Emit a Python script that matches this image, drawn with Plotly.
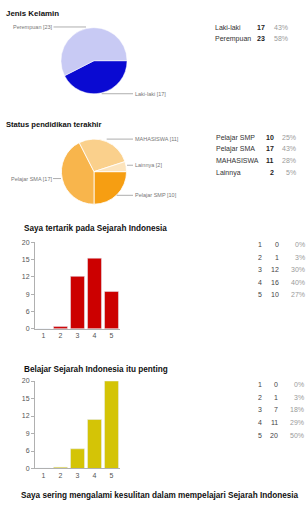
import plotly.graph_objects as go

W, H = 306, 507
FONT = "Liberation Sans"

# ---- data ----
gender_labels = ["Laki-laki", "Perempuan"]
gender_values = [17, 23]
gender_pct = ["43%", "58%"]

edu_labels = ["Pelajar SMP", "Pelajar SMA", "MAHASISWA", "Lainnya"]
edu_values = [10, 17, 11, 2]
edu_pct = ["25%", "43%", "28%", "5%"]

scale_cats = ["1", "2", "3", "4", "5"]
q1_title = "Saya tertarik pada Sejarah Indonesia"
q1_counts = [0, 1, 12, 16, 10]
q1_pct = ["0%", "3%", "30%", "40%", "27%"]
q1_bars = [0, 0.5, 12.1, 16.3, 8.6]   # bar heights as drawn

q2_title = "Belajar Sejarah Indonesia itu penting"
q2_counts = [0, 1, 7, 11, 20]
q2_pct = ["0%", "3%", "18%", "29%", "50%"]
q2_bars = [0.1, 0.3, 4.5, 11.2, 20]

tick_vals = [0, 4, 8, 12, 16, 20]
tick_text = ["0", "6", "9", "12", "15", "20"]

q3_title = "Saya sering mengalami kesulitan dalam mempelajari Sejarah Indonesia"


def px(x):
    return x / W


def py(y):
    return 1 - y / H


fig = go.Figure()

# pies
fig.add_trace(go.Pie(
    labels=gender_labels, values=gender_values, sort=False,
    direction="clockwise", rotation=90, textinfo="none", hoverinfo="label+value",
    marker=dict(colors=["#0a0ad2", "#c8caf4"], line=dict(color="white", width=0.5)),
    domain=dict(x=[px(60.5), px(127.5)], y=[py(91), py(24)]), showlegend=False,
))
fig.add_trace(go.Pie(
    labels=edu_labels, values=edu_values, sort=False,
    direction="clockwise", rotation=90, textinfo="none", hoverinfo="label+value",
    marker=dict(colors=["#f69e12", "#f8b54c", "#fad08c", "#fce4bd"],
                line=dict(color="white", width=0.8)),
    domain=dict(x=[px(61), px(127)], y=[py(203), py(137)]), showlegend=False,
))

# bars
fig.add_trace(go.Bar(x=scale_cats, y=q1_bars, marker_color="#cc0000",
                     showlegend=False, xaxis="x", yaxis="y"))
fig.add_trace(go.Bar(x=scale_cats, y=q2_bars, marker_color="#d4c406",
                     showlegend=False, xaxis="x2", yaxis="y2"))

axis_common_y = dict(range=[0, 20], tickvals=tick_vals, ticktext=tick_text,
                     showline=True, linecolor="#b0b0b0", linewidth=1,
                     ticks="outside", ticklen=3, tickcolor="#b0b0b0",
                     showgrid=False, zeroline=False,
                     tickfont=dict(family=FONT, size=7, color="#555"))
axis_common_x = dict(type="category", showline=True, linecolor="#b0b0b0",
                     linewidth=1, ticks="", showgrid=False,
                     tickfont=dict(family=FONT, size=7, color="#555"))

fig.update_layout(
    width=W, height=H, margin=dict(l=0, r=0, t=0, b=0),
    paper_bgcolor="white", plot_bgcolor="white",
    bargap=0.18,
    xaxis=dict(domain=[px(35), px(120)], anchor="y", **axis_common_x),
    yaxis=dict(domain=[py(329.3), py(241.5)], anchor="x", **axis_common_y),
    xaxis2=dict(domain=[px(35), px(120)], anchor="y2", **axis_common_x),
    yaxis2=dict(domain=[py(471), py(382.3)], anchor="x2", **axis_common_y),
    font=dict(family=FONT),
)

ann = []
shapes = []


def text(x, y, s, size, color="#222", anchor="left", bold=False):
    if bold:
        s = "<b>" + s + "</b>"
    ann.append(dict(x=px(x), y=py(y), xref="paper", yref="paper", text=s,
                    showarrow=False, xanchor=anchor, yanchor="middle",
                    borderpad=0, borderwidth=0,
                    font=dict(family=FONT, size=size, color=color)))


def line(x0, x1, y):
    shapes.append(dict(type="line", xref="paper", yref="paper",
                       x0=px(x0), x1=px(x1), y0=py(y), y1=py(y),
                       line=dict(color="#999", width=0.8)))


# titles
text(5.5, 9.5, "Jenis Kelamin", 7.9, "#111", bold=True)
text(6, 122, "Status pendidikan terakhir", 7.6, "#111", bold=True)
text(24, 228, q1_title, 8.2, "#111", bold=True)
text(24, 370.5, q2_title, 8.2, "#111", bold=True)
text(21, 498, q3_title, 8.2, "#111", bold=True)

# pie 1 labels
lab_col = "#777"
text(52.7, 23.3, f"{gender_labels[1]} [{gender_values[1]}]", 5.5, lab_col, "right")
line(53.5, 86, 23.3)
text(135, 91, f"{gender_labels[0]} [{gender_values[0]}]", 5.5, lab_col)
line(101.7, 133, 91)

# pie 2 labels
text(135, 137, f"{edu_labels[2]} [{edu_values[2]}]", 5.5, lab_col)
line(106.7, 133, 137)
text(135, 163.5, f"{edu_labels[3]} [{edu_values[3]}]", 5.5, lab_col)
line(127, 133, 163.5)
text(52, 177, f"{edu_labels[1]} [{edu_values[1]}]", 5.5, lab_col, "right")
line(53, 61, 177)
text(135, 194, f"{edu_labels[0]} [{edu_values[0]}]", 5.5, lab_col)
line(116.7, 133, 194)

# table 1
for i, yy in enumerate([24, 35]):
    text(215, yy, gender_labels[i], 7, "#333")
    text(265, yy, str(gender_values[i]), 7, "#222", "right", bold=True)
    text(287.5, yy, gender_pct[i], 7, "#9a9a9a", "right")

# table 2
for i, yy in enumerate([135.5, 147, 159, 171]):
    text(216, yy, edu_labels[i], 7, "#333")
    text(274, yy, str(edu_values[i]), 7, "#222", "right", bold=True)
    text(296, yy, edu_pct[i], 7, "#9a9a9a", "right")

# table 3
for i, yy in enumerate([244, 257, 269.5, 282, 295]):
    text(258, yy, scale_cats[i], 7, "#444")
    text(279, yy, str(q1_counts[i]), 7, "#444", "right")
    text(305, yy, q1_pct[i], 7, "#9a9a9a", "right")

# table 4
for i, yy in enumerate([386, 399, 411.5, 424.5, 437.5]):
    text(258, yy, scale_cats[i], 7, "#444")
    text(277.5, yy, str(q2_counts[i]), 7, "#444", "right")
    text(304, yy, q2_pct[i], 7, "#9a9a9a", "right")

fig.update_layout(annotations=ann, shapes=shapes)

fig.write_html("out.html")
